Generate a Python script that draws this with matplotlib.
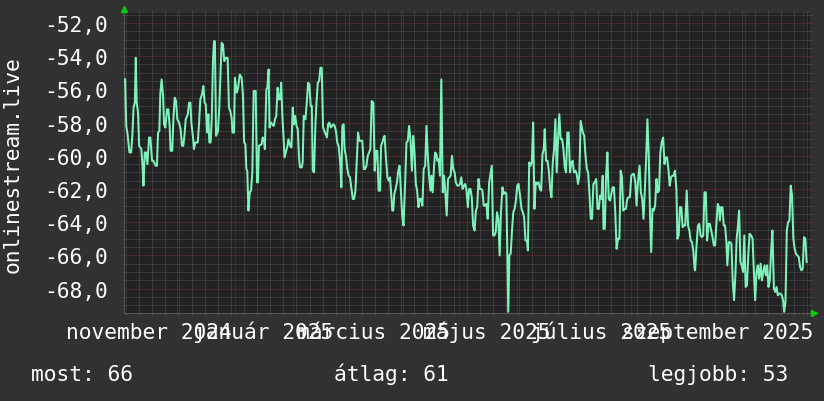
import pandas as pd
import matplotlib
matplotlib.use("Agg")
import matplotlib.pyplot as plt
from matplotlib.ticker import FixedLocator, NullFormatter

# time axis: days counted from the left edge of the graph
START = pd.Timestamp("2024-11-02 20:00")
END = START + pd.Timedelta(days=366.7)

days = [
    0.6, 1.2, 1.9, 2.9, 3.8, 4.5, 5.1, 5.8, 6.3, 6.8, 7.5, 8.1, 9.3, 9.9, 10.4, 11.1, 11.8, 12.5,
    13.4, 14.1, 15.0, 15.7, 16.9, 17.6, 18.2, 18.9, 19.4, 20.1, 20.9, 21.4, 22.1, 23.0, 23.7, 24.4,
    24.9, 25.8, 26.4, 27.1, 27.8, 28.5, 29.4, 30.3, 31.0, 31.7, 32.3, 33.0, 34.1, 34.8, 35.5, 36.0,
    36.9, 37.4, 38.1, 39.4, 40.1, 40.8, 41.7, 42.4, 43.1, 43.7, 44.4, 45.1, 45.6, 46.3, 46.9, 47.6,
    48.1, 48.6, 49.2, 50.2, 50.9, 51.7, 52.2, 52.9, 53.6, 54.5, 55.4, 56.1, 56.8, 57.5, 58.0, 58.8,
    59.3, 60.3, 61.0, 61.9, 62.9, 63.6, 64.2, 64.9, 65.4, 65.9, 66.5, 67.2, 67.9, 68.6, 69.3, 70.4,
    71.1, 71.6, 72.1, 73.6, 74.1, 74.8, 75.3, 76.1, 76.6, 77.3, 77.8, 78.5, 79.2, 80.0, 80.7, 81.4,
    82.1, 82.8, 83.5, 84.0, 84.7, 85.3, 85.8, 86.5, 87.2, 87.9, 88.8, 89.5, 90.2, 90.8, 91.5, 92.2,
    92.9, 93.6, 94.1, 95.0, 95.5, 96.1, 97.0, 97.7, 98.4, 99.1, 99.8, 100.4, 100.9, 101.6, 102.3,
    102.9, 103.6, 104.3, 105.0, 105.7, 106.4, 107.1, 107.8, 108.5, 109.1, 109.8, 110.5, 111.2,
    111.9, 112.6, 113.3, 114.0, 114.7, 115.5, 116.2, 116.7, 117.4, 117.9, 118.6, 119.4, 120.1,
    120.8, 121.6, 122.3, 123.0, 123.7, 124.4, 125.1, 125.9, 127.4, 128.2, 128.9, 129.6, 130.3,
    131.0, 131.7, 132.4, 133.3, 134.0, 134.7, 135.4, 136.1, 136.9, 137.4, 138.1, 138.8, 139.3,
    140.0, 140.8, 141.5, 142.2, 142.9, 143.4, 143.9, 144.5, 145.2, 145.9, 146.6, 147.3, 148.0,
    148.7, 149.4, 150.3, 151.0, 151.7, 152.4, 153.1, 153.9, 154.6, 155.3, 156.0, 156.7, 157.4,
    158.1, 158.8, 159.5, 160.2, 161.0, 161.7, 162.4, 163.1, 163.8, 164.3, 165.0, 165.7, 166.3,
    167.0, 167.5, 168.2, 168.9, 169.6, 170.4, 171.1, 171.8, 172.5, 173.2, 173.9, 174.6, 175.3,
    176.0, 176.7, 177.4, 178.2, 178.9, 179.6, 180.3, 181.0, 181.7, 182.4, 183.1, 183.8, 184.5,
    185.2, 185.9, 186.6, 187.4, 188.1, 188.8, 189.5, 190.2, 190.9, 191.6, 192.3, 193.0, 193.7,
    194.4, 195.2, 195.9, 196.6, 197.3, 198.0, 198.7, 199.4, 200.1, 200.8, 201.5, 202.3, 203.0,
    203.7, 204.4, 204.9, 205.4, 206.0, 206.7, 207.4, 208.1, 208.8, 209.5, 210.2, 210.9, 211.7,
    212.5, 213.2, 213.9, 214.6, 215.4, 215.9, 216.6, 217.3, 218.0, 218.7, 219.4, 220.1, 220.9,
    221.6, 222.3, 223.0, 223.7, 224.4, 224.9, 225.6, 226.4, 227.1, 227.8, 228.5, 229.2, 229.9,
    230.6, 231.3, 232.0, 232.7, 233.4, 234.2, 234.9, 235.6, 236.3, 237.0, 237.7, 238.4, 239.1,
    239.8, 240.5, 241.3, 242.0, 242.7, 243.4, 244.1, 245.3, 246.0, 246.7, 247.4, 248.1, 248.8,
    249.5, 250.2, 250.9, 251.6, 252.4, 253.1, 253.8, 254.5, 255.2, 255.9, 256.3, 257.0, 257.7,
    258.4, 259.1, 259.8, 260.5, 261.2, 261.9, 262.6, 263.3, 264.1, 264.8, 265.5, 266.2, 266.9,
    267.6, 268.3, 269.0, 269.7, 270.4, 271.2, 271.9, 272.6, 273.3, 274.0, 274.7, 275.6, 276.3,
    277.0, 277.7, 278.4, 279.1, 279.8, 280.5, 281.2, 281.8, 282.5, 283.2, 283.9, 284.6, 285.3,
    286.0, 286.7, 287.4, 288.2, 288.9, 289.6, 290.3, 291.0, 291.7, 292.4, 293.1, 293.8, 294.5,
    295.3, 295.8, 296.5, 297.2, 297.9, 298.6, 299.3, 300.0, 300.8, 301.5, 302.2, 302.9, 303.6,
    304.3, 305.0, 305.3, 306.0, 306.8, 307.5, 308.2, 308.9, 309.6, 310.3, 311.0, 311.7, 312.4,
    313.1, 313.9, 314.6, 315.3, 316.0, 316.7, 317.4, 318.1, 318.5, 319.2, 319.9, 320.6, 321.3,
    322.0, 322.5, 323.3, 324.0, 324.7, 325.4, 326.1, 326.8, 327.5, 328.2, 328.8, 329.5, 330.2,
    330.9, 331.6, 332.3, 333.0, 333.7, 334.4, 335.3, 336.0, 336.7, 337.4, 338.1, 338.8, 339.5,
    340.3, 341.0, 341.7, 342.4, 343.1, 343.8, 344.5, 345.2, 345.9, 346.6, 347.4, 348.1, 348.8,
    349.5, 350.2, 350.9, 351.6, 352.3, 352.9, 353.6, 354.3, 355.0, 355.7, 356.4, 357.1, 357.8,
    358.5, 359.2, 359.9, 360.7, 361.4, 362.1, 362.8, 363.5, 364.2, 364.9,
]

values = [
    -55.4, -58.2, -58.7, -59.8, -59.8, -58.7, -57.1, -56.8, -54.1, -56.8, -57.4, -59.4, -59.6, -60.6,
    -61.8, -59.8, -59.8, -60.5, -58.9, -58.9, -60.3, -60.3, -60.6, -60.6, -58.6, -58.5, -56.3, -55.4,
    -56.4, -58.1, -58.3, -57.2, -57.2, -58.2, -59.7, -59.7, -57.8, -56.5, -56.7, -57.8, -58.0, -58.4,
    -59.4, -59.4, -58.8, -57.8, -57.5, -56.8, -56.8, -58.0, -58.9, -59.6, -59.2, -59.2, -58.1, -56.6,
    -56.3, -55.8, -56.8, -56.9, -58.6, -57.5, -59.2, -59.2, -57.8, -54.2, -53.1, -53.1, -58.8, -58.5,
    -57.2, -54.7, -53.2, -53.3, -54.3, -54.1, -54.1, -57.1, -57.3, -57.7, -58.6, -58.6, -55.3, -56.2,
    -55.9, -55.1, -55.3, -56.4, -59.2, -59.3, -60.8, -60.9, -63.3, -62.2, -62.1, -61.0, -56.1, -56.1,
    -61.6, -61.6, -59.4, -59.3, -58.9, -59.0, -59.6, -56.0, -55.9, -54.8, -58.3, -58.0, -58.1, -58.2,
    -57.8, -57.6, -55.9, -56.6, -56.6, -55.6, -57.7, -58.9, -60.1, -59.8, -59.5, -59.0, -59.4, -59.5,
    -57.1, -58.1, -57.6, -58.2, -58.4, -60.2, -60.7, -60.7, -60.4, -57.6, -57.8, -56.8, -55.6, -55.7,
    -57.0, -57.0, -60.9, -61.0, -58.2, -56.8, -55.6, -55.5, -54.7, -54.7, -58.3, -58.5, -58.7, -58.9,
    -58.1, -58.0, -58.3, -58.2, -58.1, -58.2, -58.5, -59.2, -59.4, -60.3, -61.9, -58.2, -58.1, -59.6,
    -60.0, -60.8, -61.2, -61.3, -62.0, -62.6, -62.6, -62.1, -60.4, -58.6, -59.1, -59.1, -60.8, -60.8,
    -60.6, -60.0, -59.8, -59.6, -56.7, -56.8, -60.9, -59.7, -59.7, -62.1, -62.1, -59.4, -59.2, -58.9,
    -58.8, -60.1, -61.3, -61.5, -61.3, -62.4, -63.3, -63.3, -62.3, -62.0, -61.6, -60.9, -60.6, -62.1,
    -63.6, -64.2, -61.6, -59.2, -59.1, -58.2, -59.0, -60.9, -58.8, -59.8, -61.7, -62.1, -63.1, -62.6,
    -62.6, -63.0, -60.8, -60.6, -58.2, -60.0, -61.2, -62.1, -61.2, -62.2, -60.7, -59.8, -59.9, -60.3,
    -60.2, -61.2, -55.4, -62.2, -61.2, -62.3, -63.6, -61.4, -61.3, -61.2, -60.0, -60.8, -61.0, -61.6,
    -61.8, -61.8, -61.7, -61.3, -62.0, -61.8, -61.7, -62.1, -63.1, -62.0, -62.0, -62.5, -64.2, -64.5,
    -63.3, -63.1, -61.4, -62.0, -62.0, -62.1, -63.0, -63.0, -62.9, -63.8, -61.6, -61.1, -60.6, -64.8,
    -64.8, -64.6, -63.4, -63.8, -66.0, -63.4, -61.9, -62.3, -62.2, -62.3, -66.0, -69.4, -66.0, -65.9,
    -64.5, -63.4, -63.2, -62.7, -61.8, -61.7, -62.4, -63.2, -63.4, -63.7, -65.1, -65.1, -65.7, -60.4,
    -60.6, -60.4, -58.0, -63.2, -61.6, -61.7, -61.6, -62.0, -62.1, -59.9, -59.6, -58.4, -60.3, -60.3,
    -60.9, -62.0, -62.5, -60.4, -59.6, -57.8, -61.0, -59.0, -57.5, -59.0, -59.0, -59.6, -60.7, -61.0,
    -58.6, -58.6, -61.0, -60.4, -60.3, -61.0, -60.9, -61.1, -61.7, -61.2, -57.9, -58.6, -58.8, -60.0,
    -60.8, -61.0, -62.3, -63.8, -63.8, -61.7, -61.6, -61.4, -63.2, -63.2, -62.4, -62.6, -61.2, -64.4,
    -64.4, -61.2, -59.8, -62.6, -62.7, -62.3, -61.9, -61.9, -63.4, -65.6, -65.0, -65.0, -60.9, -61.3,
    -63.3, -63.2, -63.2, -62.6, -62.5, -62.5, -61.2, -61.1, -61.1, -61.6, -63.0, -61.6, -60.6, -62.2,
    -62.6, -63.8, -62.1, -60.2, -57.8, -60.0, -63.6, -65.8, -63.2, -63.3, -63.0, -61.4, -62.2, -62.1,
    -59.8, -59.2, -58.9, -60.5, -60.1, -60.1, -60.8, -61.8, -61.3, -61.2, -61.2, -60.9, -62.0, -65.0,
    -64.8, -63.1, -63.1, -64.3, -64.2, -64.2, -62.1, -64.2, -64.5, -65.1, -65.2, -65.7, -66.8, -66.9,
    -65.5, -64.2, -64.1, -64.8, -64.9, -64.8, -62.2, -62.2, -65.1, -64.1, -64.1, -64.5, -64.9, -65.4,
    -65.4, -64.0, -62.9, -63.1, -63.9, -63.1, -63.1, -64.2, -64.2, -65.2, -66.6, -65.2, -65.2, -65.3,
    -67.6, -68.7, -67.2, -65.0, -64.2, -63.3, -66.4, -66.6, -67.0, -64.8, -67.9, -67.8, -66.0, -64.7,
    -64.8, -65.0, -67.0, -68.7, -67.0, -66.6, -67.4, -66.5, -67.5, -67.0, -66.6, -67.2, -66.6, -67.9,
    -67.5, -65.8, -64.5, -68.0, -68.2, -67.9, -68.4, -68.3, -68.3, -68.4, -68.7, -69.4, -68.8, -64.5,
    -64.0, -63.9, -61.8, -62.4, -65.0, -65.6, -65.9, -66.0, -66.1, -66.7, -66.9, -66.8, -64.9, -65.0,
    -66.4,
]

label_months = ["2024-11-01", "2025-01-01", "2025-03-01", "2025-05-01", "2025-07-01", "2025-09-01"]
month_labels = ["november 2024", "január 2025", "március 2025", "május 2025", "július 2025",
                "szeptember 2025"]
y_major = [-68, -66, -64, -62, -60, -58, -56, -54, -52]
y_title = "onlinestream.live"
summary_labels = ["most: 66", "átlag: 61", "legjobb: 53"]

BG = "#313131"
PLOT_BG = "#222222"
LINE = "#7df3bb"
MINOR = "#4f4f4f"
MAJOR = "#733030"
ARROW = "#00d000"
FONT = "DejaVu Sans Mono"
FS = 15.3

plt.rcParams["font.family"] = FONT
fig = plt.figure(figsize=(8.24, 4.02), dpi=100, facecolor=BG)
ax = fig.add_axes([124 / 824, 1 - 314 / 402, 686 / 824, 300 / 402])
ax.set_facecolor(PLOT_BG)

times = START + pd.to_timedelta(days, unit="D")
ax.plot(times, values, color=LINE, lw=1.45, zorder=3)

ax.set_xlim(START, END)
ax.set_ylim(-69.47, -51.40)

# grid: months (red) and weeks (gray) on x, 2.0 (red) and 0.5 (gray) on y
month_starts = pd.date_range("2024-12-01", "2025-11-01", freq="MS")
weeks = [w for w in pd.date_range(START.normalize(), END, freq="W-MON") if w.day != 1]
ax.xaxis.set_major_locator(FixedLocator(matplotlib.dates.date2num(month_starts)))
ax.xaxis.set_minor_locator(FixedLocator(matplotlib.dates.date2num(weeks)))
ax.xaxis.set_major_formatter(NullFormatter())
ax.xaxis.set_minor_formatter(NullFormatter())

y_minor = [v / 2 for v in range(-139, -102) if v % 4 != 0]
ax.set_yticks(y_major)
ax.set_yticklabels([f"{v:.1f}".replace(".", ",") for v in y_major])
ax.yaxis.set_minor_locator(FixedLocator(y_minor))

ax.set_axisbelow(True)
ax.grid(which="major", color=MAJOR, lw=0.72, ls=(0, (1, 1)))
ax.grid(which="minor", color=MINOR, lw=0.72, ls=(0, (1, 1)))

ax.tick_params(which="both", direction="out", length=1.5, width=0.72, top=True, right=True)
ax.tick_params(which="major", color=MAJOR)
ax.tick_params(which="minor", color=MINOR)
ax.tick_params(axis="y", which="major", labelcolor="white", labelsize=FS, pad=10.2)

for side in ["top", "right"]:
    ax.spines[side].set_visible(False)
for side in ["bottom", "left"]:
    ax.spines[side].set_color("#5a5a5a")
    ax.spines[side].set_linewidth(0.72)

# month labels sit in the middle of their month
for m, lab in zip(label_months, month_labels):
    pos = pd.Timestamp(m) + pd.Timedelta(days=15)
    ax.text(pos, -0.0817, lab, transform=ax.get_xaxis_transform(), ha="center",
            va="baseline", color="white", fontsize=FS, clip_on=False)

# axis arrows
ax.plot([0], [1.0117], marker="^", ms=4.5, color=ARROW, transform=ax.transAxes, clip_on=False)
ax.plot([1.0058], [0.0], marker=">", ms=4.5, color=ARROW, transform=ax.transAxes, clip_on=False)

fig.text(13 / 824, 1 - 165 / 402, y_title, rotation=90, ha="center", va="center",
         color="white", fontsize=FS)

for xpos, lab in zip([31, 333.5, 648], summary_labels):
    fig.text(xpos / 824, 1 - 381 / 402, lab, ha="left", va="baseline", color="white", fontsize=FS)

fig.savefig("out.png", dpi=100, facecolor=BG)
